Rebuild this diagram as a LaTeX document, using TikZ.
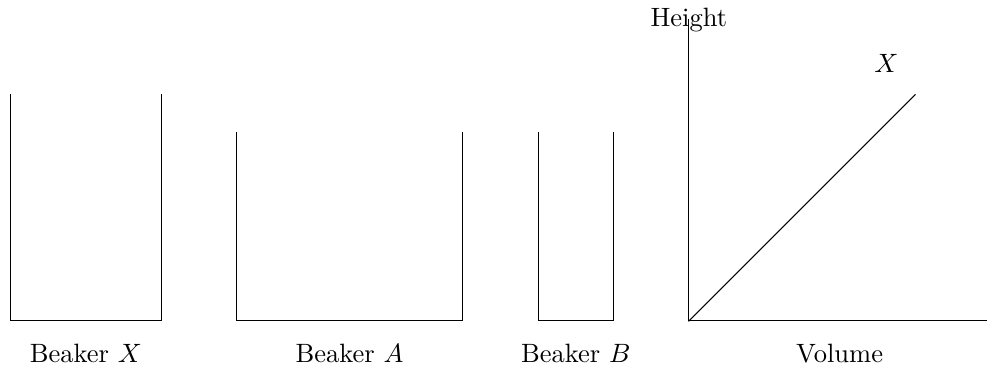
\documentclass[tikz,border=0pt]{standalone}
\begin{document}
\begin{tikzpicture}[line cap=rect, lbl/.style={inner sep=0pt}]
\useasboundingbox (-0.138,-0.663) rectangle (12.955,4.257);
% beakers
\coordinate (x1) at (0,3); \coordinate (x2) at (0,0); \coordinate (x3) at (2,0); \coordinate (x4) at (2,3);
\draw (x1) -- (x2) -- (x3) -- (x4);
\coordinate (a1) at (3,2.5); \coordinate (a2) at (3,0); \coordinate (a3) at (6,0); \coordinate (a4) at (6,2.5);
\draw (a1) -- (a2) -- (a3) -- (a4);
\coordinate (b1) at (7,2.5); \coordinate (b2) at (7,0); \coordinate (b3) at (8,0); \coordinate (b4) at (8,2.5);
\draw (b1) -- (b2) -- (b3) -- (b4);
\node[lbl] (lx) at (1,-0.43) {Beaker $X$};
\node[lbl] (la) at (4.5,-0.43) {Beaker $A$};
\node[lbl] (lb) at (7.5,-0.43) {Beaker $B$};
% graph
\coordinate (o) at (9,0);
\coordinate (yt) at (9,4);
\coordinate (xr) at (13,0);
\coordinate (le) at (12,3);
\draw (yt) -- (o) -- (xr);
\draw (o) -- (le);
\node[lbl] (h) at (9,3.99) {Height};
\node[lbl] (lv) at (11,-0.43) {Volume};
\node[lbl] (lX) at (11.62,3.41) {$X$};
\end{tikzpicture}
\end{document}
